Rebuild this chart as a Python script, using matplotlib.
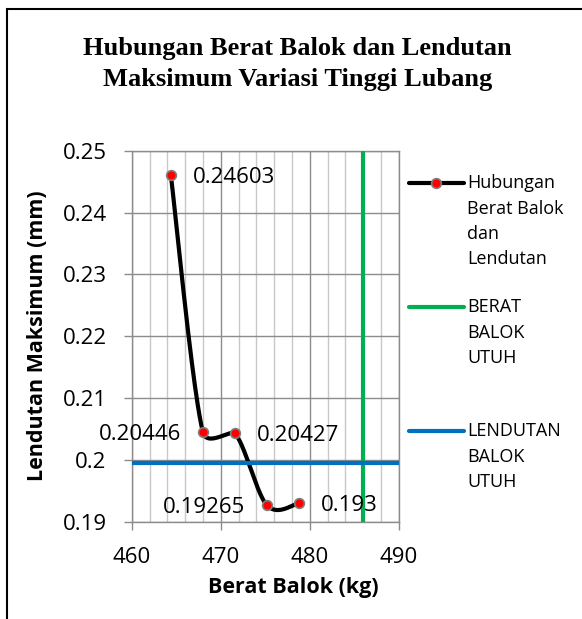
import numpy as np
import matplotlib
matplotlib.use('Agg')
import matplotlib.pyplot as plt
from matplotlib.lines import Line2D
from matplotlib.patches import Rectangle

# data
berat = [464.4, 468.0, 471.6, 475.2, 478.8]
lendutan = [0.24603, 0.20446, 0.20427, 0.19265, 0.193]
point_labels = ['0.24603', '0.20446', '0.20427', '0.19265', '0.193']
label_side = ['right', 'left', 'right', 'left', 'right']

berat_utuh = 486.0
lendutan_utuh = 0.1995

x_ticks = [460, 470, 480, 490]
y_ticks = [0.19, 0.20, 0.21, 0.22, 0.23, 0.24, 0.25]
y_ticklabels = ['0.19', '0.2', '0.21', '0.22', '0.23', '0.24', '0.25']

W, H = 582, 619
SANS = 'Open Sans'
SERIF = 'Liberation Serif'


def px(x, y):
    # pixel position (from top-left) -> figure fraction
    return x / W, 1 - y / H


def smooth(ax, xs, ys, n=40):
    # excel-like smoothed line, done in screen space:
    # cubic bezier, tangents (next - prev)/6, shrunk when they'd overshoot a short segment
    p = ax.transData.transform(np.column_stack([xs, ys]))
    out = []
    for i in range(len(p) - 1):
        p0 = p[i - 1] if i > 0 else p[i]
        p1, p2 = p[i], p[i + 1]
        p3 = p[i + 2] if i + 2 < len(p) else p[i + 1]
        d02 = np.hypot(*(p2 - p0))
        d13 = np.hypot(*(p3 - p1))
        half = np.hypot(*(p2 - p1)) / 2
        f = 1 / 6
        if d02 / 6 >= half or d13 / 6 >= half:
            f = min(half / d02, half / d13)
        c1, c2 = p1 + f * (p2 - p0), p2 - f * (p3 - p1)
        t = np.linspace(0, 1, n)[:, None]
        seg = (1 - t) ** 3 * p1 + 3 * (1 - t) ** 2 * t * c1 + 3 * (1 - t) * t ** 2 * c2 + t ** 3 * p2
        out.append(seg if i == 0 else seg[1:])
    out = ax.transData.inverted().transform(np.vstack(out))
    return out[:, 0], out[:, 1]


fig = plt.figure(figsize=(W / 100, H / 100), dpi=100)
ax = fig.add_axes([131.7 / W, 1 - 521.7 / H, (398.7 - 131.7) / W, (521.7 - 150.7) / H])

grid_major = '#8c8c8c'
grid_minor = '#c8c8c8'

ax.set_xlim(460, 490)
ax.set_ylim(0.19, 0.25)
ax.set_xticks(x_ticks)
ax.set_xticks(np.arange(460, 491, 2), minor=True)
ax.set_yticks(y_ticks)
ax.set_yticklabels(y_ticklabels)
ax.grid(True, which='major', color=grid_major, lw=1.0)
ax.grid(True, which='minor', axis='x', color=grid_minor, lw=1.0)
ax.set_axisbelow(True)
for s in ax.spines.values():
    s.set_color(grid_major)
    s.set_linewidth(1.0)
ax.tick_params(which='major', direction='out', length=6, width=1.0, color=grid_major,
               labelsize=16, labelcolor='black')
ax.tick_params(axis='x', pad=12)
ax.tick_params(axis='y', pad=12)
ax.tick_params(which='minor', length=0)
for lab in ax.get_xticklabels() + ax.get_yticklabels():
    lab.set_family(SANS)

sx, sy = smooth(ax, berat, lendutan)
ax.plot(sx, sy, color='black', lw=3, solid_capstyle='round', zorder=3)
ax.plot(berat, lendutan, ls='none', marker='o', ms=7, mfc='red', mec='#7f7f7f', mew=1.2, zorder=4)
ax.plot([berat_utuh, berat_utuh], [0.19, 0.25], color='#00b050', lw=3, zorder=5)
ax.plot([460, 490], [lendutan_utuh, lendutan_utuh], color='#0070c0', lw=3, zorder=6)

for x, y, t, side in zip(berat, lendutan, point_labels, label_side):
    dx = 22 if side == 'right' else -22
    ax.annotate(t, (x, y), xytext=(dx, -2), textcoords='offset pixels',
                ha='left' if side == 'right' else 'right', va='center',
                fontsize=16, family=SANS, zorder=7)

# title, axis titles
fig.text(*px(297.5, 55), 'Hubungan Berat Balok dan Lendutan', ha='center', va='baseline',
         fontsize=19, fontweight='bold', family=SERIF)
fig.text(*px(297.5, 86), 'Maksimum Variasi Tinggi Lubang', ha='center', va='baseline',
         fontsize=19, fontweight='bold', family=SERIF)
fig.text(*px(293, 593), 'Berat Balok (kg)', ha='center', va='baseline',
         fontsize=15.5, fontweight='bold', family=SANS)
fig.text(*px(38, 336), 'Lendutan Maksimum (mm)', ha='center', va='center', rotation=90,
         fontsize=15.5, fontweight='bold', family=SANS)

# legend drawn by hand, one line of text at a time
legend = [
    ('black', True, 183, ['Hubungan', 'Berat Balok', 'dan', 'Lendutan']),
    ('#00b050', False, 307, ['BERAT', 'BALOK', 'UTUH']),
    ('#0070c0', False, 431, ['LENDUTAN', 'BALOK', 'UTUH']),
]
for color, marker, y0, lines in legend:
    (x1, yy), (x2, _) = px(409, y0), px(464, y0)
    fig.add_artist(Line2D([x1, x2], [yy, yy], color=color, lw=3, solid_capstyle='round'))
    if marker:
        fig.add_artist(Line2D([px(436, y0)[0]], [yy], ls='none', marker='o', ms=7,
                              mfc='red', mec='#7f7f7f', mew=1.2))
    for k, s in enumerate(lines):
        fig.text(*px(467, y0 + 25.5 * k), s, ha='left', va='center', fontsize=13, family=SANS)

# outer chart border (cut off at right and bottom)
fig.add_artist(Rectangle(px(7, 700), 2, (700 - 9) / H, transform=fig.transFigure,
                         fill=False, edgecolor='black', lw=1.5))

fig.savefig('out.png', dpi=100)
